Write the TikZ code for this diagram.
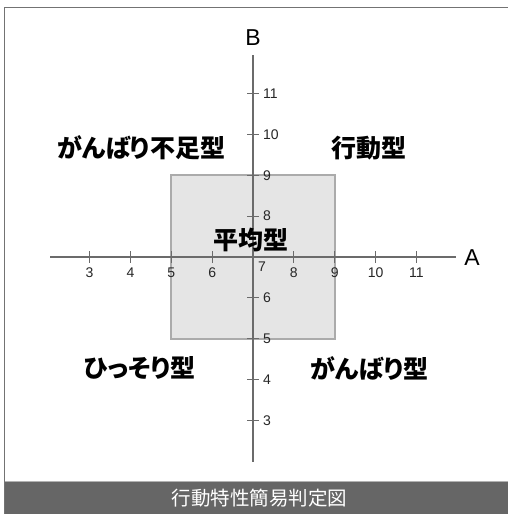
\documentclass[tikz,border=0pt]{standalone}
\usepackage{fontspec}
\setmainfont{Liberation Sans}
\newfontfamily\jp[RawFeature=+palt]{Noto Sans CJK JP}
\newfontfamily\jpt{Noto Sans CJK JP}
\begin{document}
\begin{tikzpicture}[x=1pt,y=-1pt,
  axis/.style={draw=black!58,line width=2pt},
  tick/.style={draw=black!58,line width=1.2pt},
  numlab/.style={font=\fontsize{14}{14}\selectfont,text=black!85,inner sep=0pt},
  axlab/.style={font=\fontsize{23}{23}\selectfont,inner sep=0pt},
  quad/.style={font=\jp\bfseries\fontsize{25}{25}\selectfont,inner sep=0pt},
  avgbox/.style={fill=black!10,draw=black!33,line width=2pt}]
\useasboundingbox (0,0) rectangle (508,514);
\fill[white] (0,0) rectangle (508,514);
% frame
\draw[black!55,line width=1.5pt] (4.5,514) -- (4.5,7.5) -- (508,7.5);
% bottom bar
\fill[black!60] (5.25,481) rectangle (508,514);
\draw[black!30,line width=0.8pt] (5.25,481) -- (508,481);
\node[font=\jpt\fontsize{19.5}{19.5}\selectfont,text=white] (title) at (259.5,498) {行動特性簡易判定図};
% average box
\def\u{40.85}
\draw[avgbox] ({253-2*\u},{257-2*\u}) rectangle ({253+2*\u},{257+2*\u});
% axes
\coordinate (hl) at (50,257);
\coordinate (hr) at (456,257);
\coordinate (vt) at (253,55);
\coordinate (vb) at (253,462);
\draw[axis] (hl) -- (hr);
\draw[axis] (vt) -- (vb);
\node[axlab] (A) at (472,258) {A};
\node[axlab] (B) at (253,38) {B};
% x ticks
\foreach \v in {3,4,5,6,8,9,10,11}{
  \draw[tick] ({253+(\v-7)*\u},251) -- ({253+(\v-7)*\u},263);
  \node[numlab] (x\v) at ({253+(\v-7)*\u},273) {\v};
}
% y ticks
\foreach \v in {3,4,5,6,8,9,10,11}{
  \draw[tick] (247,{257-(\v-7)*\u}) -- (259,{257-(\v-7)*\u});
  \node[numlab,anchor=west] (y\v) at (263,{257-(\v-7)*\u}) {\v};
}
\node[numlab] (seven) at (262,267) {7};
% quadrant labels
\node[quad] (q1) at (141,148) {がんばり不足型};
\node[quad] (q2) at (369,148) {行動型};
\node[quad] (q3) at (140,368) {ひっそり型};
\node[quad] (q4) at (369.5,368) {がんばり型};
\node[quad] (avg) at (251,240) {平均型};
\end{tikzpicture}
\end{document}
